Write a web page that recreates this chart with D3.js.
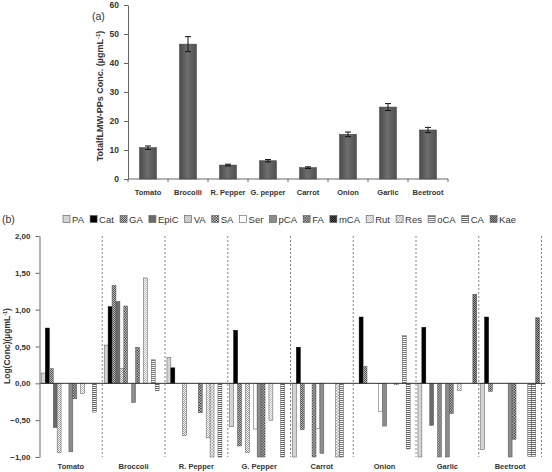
<!DOCTYPE html>
<html>
<head>
<meta charset="utf-8">
<script src="https://cdn.jsdelivr.net/npm/d3@7"></script>
<style>
body { margin: 0; background: #fff; }
text { font-family: "Liberation Sans", Arial, sans-serif; }
</style>
</head>
<body>
<svg width="552" height="472"></svg>
<script>
// panel (a) data
const vegA = ['Tomato', 'Brocolli', 'R. Pepper', 'G. pepper', 'Carrot', 'Onion', 'Garlic', 'Beetroot']
const totalConc = [10.8, 46.5, 4.8, 6.3, 3.9, 15.4, 24.8, 16.9]
const totalErr = [0.6, 2.6, 0.3, 0.4, 0.3, 0.8, 1.2, 0.9]
const ticksA = [0, 10, 20, 30, 40, 50, 60]

// panel (b) data, one array per compound, one value per vegetable (null = no bar)
const vegB = ['Tomato', 'Broccoli', 'R. Pepper', 'G. Pepper', 'Carrot', 'Onion', 'Garlic', 'Beetroot']
const compounds = ['PA', 'Cat', 'GA', 'EpiC', 'VA', 'SA', 'Ser', 'pCA', 'FA', 'mCA', 'Rut', 'Res', 'oCA', 'CA', 'Kae']
const PA   = [0.14, 0.52, 0.35, -0.59, -1.00, null, -1.00, -0.90]
const Cat  = [0.75, 1.04, 0.21, 0.72, 0.49, 0.90, 0.76, 0.90]
const GA   = [0.20, 1.33, null, -0.85, -0.63, 0.23, null, -0.11]
const EpiC = [-0.60, 1.11, null, null, null, null, -0.57, null]
const VA   = [-0.94, 0.20, -0.71, -0.94, null, null, null, null]
const SA   = [null, 1.05, null, null, -1.00, null, -1.00, null]
const Ser  = [null, null, null, -0.62, -0.61, -0.38, null, null]
const pCA  = [-0.93, -0.26, null, -1.00, -0.95, -0.58, -1.00, -1.00]
const FA   = [-0.21, 0.49, -0.40, -1.00, null, null, -0.41, -0.76]
const mCA  = [null, null, null, null, null, null, null, null]
const Rut  = [-0.14, 1.43, -0.74, -0.50, null, -0.02, -0.10, null]
const Res  = [null, null, -1.00, null, -1.00, null, null, null]
const oCA  = [null, 0.32, null, null, -1.00, 0.65, null, -0.99]
const CA   = [-0.39, -0.10, -1.00, -1.00, null, -0.89, null, -0.99]
const Kae  = [null, null, null, null, null, null, 1.21, 0.89]
const ticksB = [2, 1.5, 1, 0.5, 0, -0.5, -1]

const series = { PA, Cat, GA, EpiC, VA, SA, Ser, pCA, FA, mCA, Rut, Res, oCA, CA, Kae }

const svg = d3.select('svg')
const defs = svg.append('defs')

// fills / patterns for each compound
function checker(id, s, a, b) {
    const p = defs.append('pattern').attr('id', id).attr('patternUnits', 'userSpaceOnUse')
        .attr('width', 2 * s).attr('height', 2 * s)
    p.append('rect').attr('width', 2 * s).attr('height', 2 * s).attr('fill', a)
    p.append('rect').attr('width', s).attr('height', s).attr('fill', b)
    p.append('rect').attr('x', s).attr('y', s).attr('width', s).attr('height', s).attr('fill', b)
}
function stripes(id, s, a, b) {
    const p = defs.append('pattern').attr('id', id).attr('patternUnits', 'userSpaceOnUse')
        .attr('width', 4).attr('height', 2 * s)
    p.append('rect').attr('width', 4).attr('height', 2 * s).attr('fill', a)
    p.append('rect').attr('width', 4).attr('height', s).attr('fill', b)
}
checker('pGA', 1, '#bbb', '#555')
checker('pVA', 1, '#fff', '#999')
checker('pSA', 1.3, '#fff', '#111')
checker('pFA', 1.3, '#fff', '#000')
checker('pmCA', 1, '#555', '#111')
checker('pRut', 1, '#fff', '#bbb')
checker('pRes', 1.5, '#fff', '#aaa')
stripes('poCA', 1, '#fff', '#777')
stripes('pCA', 1, '#fff', '#666')
checker('pKae', 1, '#999', '#444')

const fills = {
    PA: '#d4d4d4', Cat: '#000', GA: 'url(#pGA)', EpiC: '#6a6a6a', VA: 'url(#pVA)',
    SA: 'url(#pSA)', Ser: '#fff', pCA: '#8c8c8c', FA: 'url(#pFA)', mCA: 'url(#pmCA)',
    Rut: 'url(#pRut)', Res: 'url(#pRes)', oCA: 'url(#poCA)', CA: 'url(#pCA)', Kae: 'url(#pKae)'
}

// gradient for panel (a) bars
const grad = defs.append('linearGradient').attr('id', 'barGrad')
grad.append('stop').attr('offset', '0%').attr('stop-color', '#4a4a4a')
grad.append('stop').attr('offset', '45%').attr('stop-color', '#6e6e6e')
grad.append('stop').attr('offset', '100%').attr('stop-color', '#505050')

// ---------- panel (a) ----------
const xA = d3.scaleBand().domain(vegA).range([128, 448]).paddingInner(0.58).paddingOuter(0.29)
const yA = d3.scaleLinear().domain([0, 60]).range([179, 5])

svg.append('g')
    .attr('transform', 'translate(128,0)')
    .call(d3.axisLeft(yA).tickValues(ticksA).tickSize(4).tickPadding(5).tickSizeOuter(0))
    .call(g => g.select('.domain').attr('stroke', '#666'))
    .call(g => g.selectAll('line').attr('stroke', '#666'))
    .call(g => g.selectAll('text').attr('font-size', 8.5).attr('font-weight', 'bold').attr('fill', '#333'))

svg.append('line').attr('x1', 128).attr('x2', 448).attr('y1', 179).attr('y2', 179).attr('stroke', '#666')
svg.append('g').selectAll('line')
    .data(d3.range(vegA.length + 1))
    .join('line')
    .attr('x1', i => 128 + i * xA.step()).attr('x2', i => 128 + i * xA.step())
    .attr('y1', 179).attr('y2', 182).attr('stroke', '#666')

svg.append('g').selectAll('text')
    .data(vegA)
    .join('text')
    .attr('x', d => xA(d) + xA.bandwidth() / 2)
    .attr('y', 195)
    .attr('text-anchor', 'middle')
    .attr('font-size', 7.5)
    .attr('font-weight', 'bold')
    .attr('fill', '#333')
    .text(d => d)

svg.append('g').selectAll('rect')
    .data(vegA)
    .join('rect')
    .attr('x', d => xA(d))
    .attr('y', (d, i) => yA(totalConc[i]))
    .attr('width', xA.bandwidth())
    .attr('height', (d, i) => yA(0) - yA(totalConc[i]))
    .attr('fill', 'url(#barGrad)')
    .attr('stroke', '#444')
    .attr('stroke-width', 0.6)

const errG = svg.append('g').attr('stroke', '#111').attr('stroke-width', 1)
vegA.forEach((d, i) => {
    const cx = xA(d) + xA.bandwidth() / 2
    const lo = yA(totalConc[i] - totalErr[i]), hi = yA(totalConc[i] + totalErr[i])
    errG.append('line').attr('x1', cx).attr('x2', cx).attr('y1', lo).attr('y2', hi)
    errG.append('line').attr('x1', cx - 3).attr('x2', cx + 3).attr('y1', lo).attr('y2', lo)
    errG.append('line').attr('x1', cx - 3).attr('x2', cx + 3).attr('y1', hi).attr('y2', hi)
})

const labA = svg.append('text')
    .attr('transform', 'translate(103,96) rotate(-90)')
    .attr('text-anchor', 'middle')
    .attr('font-size', 9)
    .attr('font-weight', 'bold')
    .attr('fill', '#333')
labA.append('tspan').text('TotalfLMW-PPs Conc. (µgmL')
labA.append('tspan').attr('font-size', 6).attr('dy', -3).text('-1')
labA.append('tspan').attr('dy', 3).text(')')

svg.append('text').attr('x', 92).attr('y', 20).attr('font-size', 10.5).attr('fill', '#333').text('(a)')

// ---------- panel (b) ----------
const xB = d3.scaleBand().domain(vegB).range([39.5, 541.5])
const xC = d3.scaleBand().domain(compounds).range([0, xB.bandwidth()]).paddingOuter(0.5)
const yB = d3.scaleLinear().domain([-1, 2]).range([457, 236])

// dashed separators
svg.append('g').selectAll('line')
    .data(vegB.slice(1).concat(['end']))
    .join('line')
    .attr('x1', (d, i) => xB(vegB[0]) + (i + 1) * xB.step())
    .attr('x2', (d, i) => xB(vegB[0]) + (i + 1) * xB.step())
    .attr('y1', 236).attr('y2', 457)
    .attr('stroke', '#666').attr('stroke-width', 0.8).attr('stroke-dasharray', '2,2')

const barsB = []
compounds.forEach(c => series[c].forEach((v, i) => {
    if (v !== null) barsB.push({ c, veg: vegB[i], v })
}))

svg.append('g').selectAll('rect')
    .data(barsB)
    .join('rect')
    .attr('x', d => xB(d.veg) + xC(d.c))
    .attr('y', d => yB(Math.max(0, d.v)))
    .attr('width', xC.bandwidth())
    .attr('height', d => Math.abs(yB(d.v) - yB(0)))
    .attr('fill', d => fills[d.c])
    .attr('stroke', d => d.c === 'Cat' ? '#000' : '#555')
    .attr('stroke-width', 0.5)

svg.append('line').attr('x1', 39.5).attr('x2', 545).attr('y1', yB(0)).attr('y2', yB(0))
    .attr('stroke', '#333').attr('stroke-width', 1)

svg.append('g')
    .attr('transform', 'translate(39.5,0)')
    .call(d3.axisLeft(yB).tickValues(ticksB).tickSize(4).tickPadding(5).tickSizeOuter(0)
        .tickFormat(d => d3.format('.2f')(d).replace('.', ',')))
    .call(g => g.select('.domain').attr('stroke', '#666'))
    .call(g => g.selectAll('line').attr('stroke', '#666'))
    .call(g => g.selectAll('text').attr('font-size', 8).attr('font-weight', 'bold').attr('fill', '#333'))

svg.append('g').selectAll('text')
    .data(vegB)
    .join('text')
    .attr('x', d => xB(d) + xB.bandwidth() / 2)
    .attr('y', 469)
    .attr('text-anchor', 'middle')
    .attr('font-size', 7.5)
    .attr('font-weight', 'bold')
    .attr('fill', '#333')
    .text(d => d)

const labB = svg.append('text')
    .attr('transform', 'translate(10,346) rotate(-90)')
    .attr('text-anchor', 'middle')
    .attr('font-size', 8.5)
    .attr('font-weight', 'bold')
    .attr('fill', '#333')
labB.append('tspan').text('Log(Conc)(µgmL')
labB.append('tspan').attr('font-size', 5.5).attr('dy', -3).text('-1')
labB.append('tspan').attr('dy', 3).text(')')

svg.append('text').attr('x', 2).attr('y', 223).attr('font-size', 10.5).attr('fill', '#333').text('(b)')

// legend
const leg = svg.append('g')
const items = leg.selectAll('g').data(compounds).join('g')
items.append('rect')
    .attr('width', 7).attr('height', 7).attr('y', 215.5)
    .attr('fill', d => fills[d]).attr('stroke', '#555').attr('stroke-width', 0.6)
items.append('text')
    .attr('x', 9).attr('y', 222.5)
    .attr('font-size', 9.5)
    .attr('fill', '#333')
    .text(d => d)
const widths = []
items.each(function () { widths.push(9 + d3.select(this).select('text').node().getComputedTextLength()) })
const gap = (516 - 63 - d3.sum(widths)) / (compounds.length - 1)
let lx = 63
items.attr('transform', (d, i) => {
    const t = `translate(${lx},0)`
    lx += widths[i] + gap
    return t
})
</script>
</body>
</html>
